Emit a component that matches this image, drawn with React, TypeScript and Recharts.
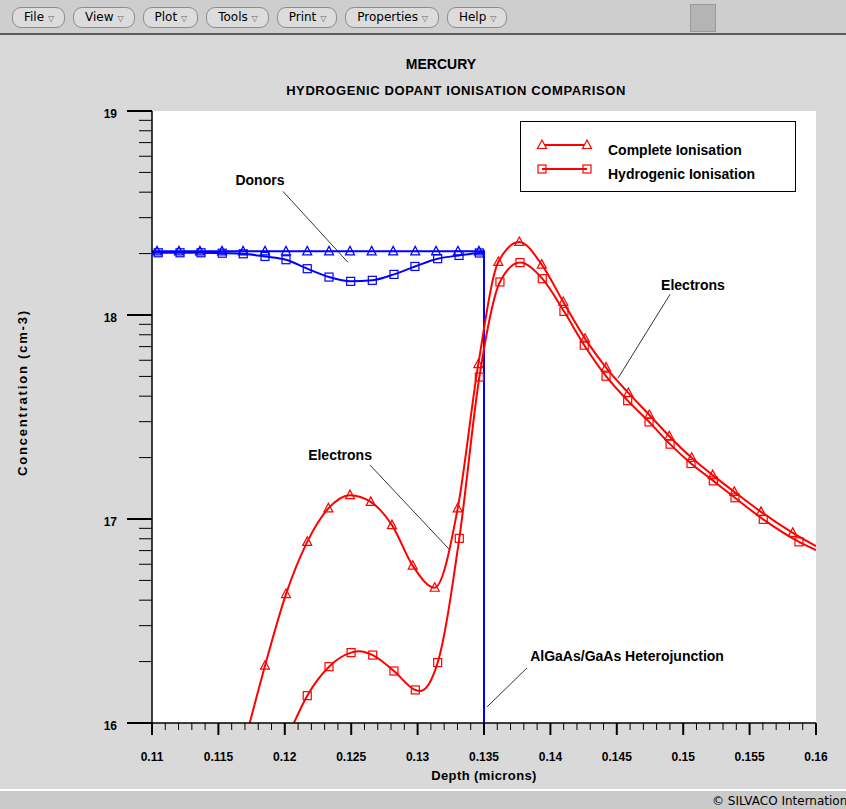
import React from 'react';
import { LineChart, Line, XAxis, YAxis, CartesianGrid, ReferenceLine, ReferenceDot } from 'recharts';

// [depth (microns), log10 concentration, marker flag]
type Pt = [number, number, number];

const completeDonors: Pt[] = [
    [0.1100, 18.312, 0], [0.11038, 18.312, 1], [0.11203, 18.312, 1], [0.11361, 18.312, 1],
    [0.11527, 18.312, 1], [0.11686, 18.312, 1], [0.11851, 18.312, 1], [0.12009, 18.312, 1],
    [0.12169, 18.312, 1], [0.12333, 18.312, 1], [0.12491, 18.312, 1], [0.12654, 18.312, 1],
    [0.12816, 18.312, 1], [0.12982, 18.312, 1], [0.13139, 18.312, 1], [0.13304, 18.312, 1],
    [0.13462, 18.312, 1], [0.1350, 18.312, 0], [0.1350, 15.9, 0],
];

const hydrogenicDonors: Pt[] = [
    [0.1100, 18.305, 0], [0.11047, 18.305, 1], [0.11211, 18.305, 1], [0.11369, 18.305, 1],
    [0.11529, 18.303, 1], [0.11687, 18.300, 1], [0.11851, 18.287, 1], [0.12009, 18.271, 1],
    [0.12169, 18.227, 1], [0.12333, 18.186, 1], [0.12496, 18.165, 1], [0.12659, 18.170, 1],
    [0.12822, 18.199, 1], [0.12980, 18.238, 1], [0.13151, 18.276, 1], [0.13312, 18.292, 1],
    [0.13465, 18.304, 1], [0.1350, 18.305, 0],
];

const completeElectrons: Pt[] = [
    [0.1170, 15.91, 0], [0.11851, 16.281, 1], [0.12009, 16.632, 1], [0.12169, 16.888, 1],
    [0.12328, 17.052, 1], [0.12491, 17.117, 1], [0.12647, 17.084, 1], [0.12807, 16.970, 1],
    [0.12963, 16.771, 1], [0.13129, 16.663, 1], [0.13302, 17.052, 1], [0.13457, 17.759, 1],
    [0.13608, 18.260, 1], [0.13766, 18.358, 1], [0.13935, 18.247, 1], [0.14097, 18.064, 1],
    [0.14261, 17.884, 1], [0.14419, 17.742, 1], [0.14587, 17.618, 1], [0.14745, 17.510, 1],
    [0.14895, 17.406, 1], [0.15064, 17.300, 1], [0.15222, 17.215, 1], [0.15385, 17.133, 1],
    [0.15586, 17.035, 1], [0.15825, 16.932, 1], [0.1600, 16.867, 0],
];

const hydrogenicElectrons: Pt[] = [
    [0.12032, 15.947, 0], [0.12169, 16.134, 1], [0.12333, 16.276, 1], [0.12499, 16.345, 1],
    [0.1256, 16.352, 0], [0.12662, 16.333, 1], [0.12822, 16.255, 1], [0.12983, 16.162, 1],
    [0.1302, 16.157, 0], [0.13151, 16.296, 1], [0.13314, 16.905, 1], [0.13465, 17.696, 1],
    [0.13620, 18.162, 1], [0.13771, 18.257, 1], [0.13939, 18.178, 1], [0.14102, 18.018, 1],
    [0.14255, 17.852, 1], [0.14419, 17.700, 1], [0.14582, 17.580, 1], [0.14743, 17.476, 1],
    [0.14901, 17.367, 1], [0.15059, 17.272, 1], [0.15227, 17.187, 1], [0.15390, 17.104, 1],
    [0.15603, 16.998, 1], [0.15872, 16.888, 1], [0.1600, 16.848, 0],
];

const xMajorTicks = [0.11, 0.115, 0.12, 0.125, 0.13, 0.135, 0.14, 0.145, 0.15, 0.155, 0.16];
const yMajorTicks = [16, 17, 18, 19];
const menuItems = ['File', 'View', 'Plot', 'Tools', 'Print', 'Properties', 'Help'];

// annotation text [label, x, y] and leader segments [x1, y1, x2, y2]
const notes: [string, number, number][] = [
    ['Donors', 0.11813, 18.66],
    ['Electrons', 0.12416, 17.313],
    ['Electrons', 0.15074, 18.145],
    ['AlGaAs/GaAs Heterojunction', 0.14577, 16.329],
];
const leaders: [number, number, number, number][] = [
    [0.11986, 18.606, 0.12476, 18.258],
    [0.12642, 17.264, 0.13236, 16.853],
    [0.14901, 18.101, 0.14509, 17.69],
    [0.13824, 16.27, 0.13523, 16.079],
];

const toRows = (pts: Pt[]) => pts.map(([x, y, m]) => ({ x, y, m }));

// minor ticks every 0.001 on x, log minor ticks on y
const xTicks: number[] = [];
for (let i = 0; i <= 50; i++) xTicks.push(Math.round((0.11 + i * 0.001) * 1000) / 1000);
const yTicks: number[] = [];
for (let n = 16; n < 19; n++) for (let k = 1; k <= 9; k++) yTicks.push(n + Math.log10(k));
yTicks.push(19);

const font = '"Liberation Sans", Arial, sans-serif';

const isXMajor = (v: number) => xMajorTicks.some((t) => Math.abs(t - v) < 1e-7);
const isYMajor = (v: number) => yMajorTicks.some((t) => Math.abs(t - v) < 1e-7);

const XTick = (props: any) => {
    const { x, y, payload } = props;
    const major = isXMajor(payload.value);
    return (
        <g>
            <line x1={x} y1={y} x2={x} y2={y + (major ? 12 : 7)} stroke="#000" strokeWidth={major ? 2 : 1} />
            {major && (
                <text x={x} y={y + 38} textAnchor="middle" fontSize={12} fontWeight="bold" fontFamily={font} fill="#000">
                    {String(payload.value)}
                </text>
            )}
        </g>
    );
};

const YTick = (props: any) => {
    const { x, y, payload } = props;
    const major = isYMajor(payload.value);
    return (
        <g>
            <line x1={x - (major ? 25 : 13)} y1={y} x2={x} y2={y} stroke="#000" strokeWidth={major ? 2 : 1} />
            {major && (
                <text x={x - 35} y={y + 7} textAnchor="end" fontSize={12} fontWeight="bold" fontFamily={font} fill="#000">
                    {String(Math.round(payload.value))}
                </text>
            )}
        </g>
    );
};

const makeDot = (shape: 'tri' | 'sq', color: string) => (props: any) => {
    const { cx, cy, payload, index } = props;
    if (!payload || !payload.m || cx == null || cy == null) return <g key={index} />;
    if (shape === 'tri') {
        return (
            <polygon key={index} points={`${cx},${cy - 5} ${cx - 4.5},${cy + 3.5} ${cx + 4.5},${cy + 3.5}`}
                fill="none" stroke={color} strokeWidth={1.2} />
        );
    }
    return <rect key={index} x={cx - 4} y={cy - 4} width={8} height={8} fill="none" stroke={color} strokeWidth={1.2} />;
};

const series = [
    { name: 'donorsComplete', data: completeDonors, color: '#0000ff', shape: 'tri' as const, type: 'linear' as const },
    { name: 'donorsHydrogenic', data: hydrogenicDonors, color: '#0000ff', shape: 'sq' as const, type: 'monotone' as const },
    { name: 'electronsComplete', data: completeElectrons, color: '#ff0000', shape: 'tri' as const, type: 'monotone' as const },
    { name: 'electronsHydrogenic', data: hydrogenicElectrons, color: '#ff0000', shape: 'sq' as const, type: 'monotone' as const },
];

const legendItems = [
    { label: 'Complete Ionisation', shape: 'tri' },
    { label: 'Hydrogenic Ionisation', shape: 'sq' },
];

const App = () => {
    return (
        <div style={{ position: 'fixed', left: 0, top: 0, width: 846, height: 809, background: '#d9d9d9', overflow: 'hidden', fontFamily: font }}>
            {/* toolbar */}
            <div style={{ position: 'absolute', left: 0, top: 0, width: 846, height: 33, background: '#cecece', borderBottom: '2px solid #5a5a5a' }}>
                <div style={{ position: 'absolute', left: 12, top: 7, display: 'flex', gap: 8 }}>
                    {menuItems.map((m) => (
                        <div key={m} style={{
                            border: '1px solid #8c8c8c', borderRadius: 9, background: '#dcdcdc', padding: '1px 10px 1px 11px',
                            fontFamily: '"DejaVu Sans", sans-serif', fontSize: 12, color: '#000', height: 17, lineHeight: '17px',
                            whiteSpace: 'nowrap',
                        }}>
                            {m} <span style={{ fontSize: 8, color: '#666' }}>▽</span>
                        </div>
                    ))}
                </div>
                <div style={{ position: 'absolute', left: 690, top: 4, width: 24, height: 26, background: '#b4b4b4', border: '1px solid #9a9a9a' }} />
            </div>

            {/* titles */}
            <div style={{ position: 'absolute', left: 0, top: 56, width: 882, textAlign: 'center', fontSize: 14, fontWeight: 'bold' }}>MERCURY</div>
            <div style={{ position: 'absolute', left: 0, top: 83, width: 912, textAlign: 'center', fontSize: 13, fontWeight: 'bold', letterSpacing: 0.6 }}>
                HYDROGENIC DOPANT IONISATION COMPARISON
            </div>

            {/* axis titles */}
            <div style={{ position: 'absolute', left: 384, top: 768, width: 200, textAlign: 'center', fontSize: 13, fontWeight: 'bold', letterSpacing: 0.4 }}>
                Depth (microns)
            </div>
            <div style={{
                position: 'absolute', left: 22, top: 393, width: 240, marginLeft: -120, marginTop: -8, textAlign: 'center',
                fontSize: 13, fontWeight: 'bold', letterSpacing: 1.8, transform: 'rotate(-90deg)', whiteSpace: 'nowrap',
            }}>
                Concentration (cm-3)
            </div>

            <div style={{ position: 'absolute', left: 0, top: 0 }}>
                <LineChart width={846} height={809} margin={{ top: 111, right: 30, bottom: 46, left: 92 }}>
                    <CartesianGrid fill="#ffffff" horizontal={false} vertical={false} />
                    <XAxis dataKey="x" type="number" domain={[0.11, 0.16]} ticks={xTicks} interval={0} allowDataOverflow
                        tickLine={false} tickSize={0} tickMargin={0} height={40} axisLine={{ stroke: '#000', strokeWidth: 1.5 }}
                        tick={(p: any) => <XTick {...p} />} />
                    <XAxis xAxisId="top" orientation="top" dataKey="x" type="number" domain={[0.11, 0.16]} height={0}
                        tick={false} tickLine={false} axisLine={{ stroke: '#000' }} />
                    <YAxis type="number" domain={[16, 19]} ticks={yTicks} interval={0} allowDataOverflow width={60}
                        tickLine={false} tickSize={0} tickMargin={0} axisLine={{ stroke: '#000', strokeWidth: 1.5 }}
                        tick={(p: any) => <YTick {...p} />} />
                    <YAxis yAxisId="right" orientation="right" type="number" domain={[16, 19]} width={0}
                        tick={false} tickLine={false} axisLine={{ stroke: '#666' }} />
                    {leaders.map(([x1, y1, x2, y2], i) => (
                        <ReferenceLine key={'l' + i} segment={[{ x: x1, y: y1 }, { x: x2, y: y2 }]} stroke="#333" strokeWidth={1} />
                    ))}
                    {notes.map(([t, x, y], i) => (
                        <ReferenceDot key={'n' + i} x={x} y={y} r={0} stroke="none" fill="none"
                            label={{ value: t, position: 'center', fill: '#000', fontSize: 14, fontWeight: 'bold', fontFamily: font }} />
                    ))}
                    {series.map((s) => (
                        <Line key={s.name} data={toRows(s.data)} dataKey="y" type={s.type} stroke={s.color} strokeWidth={2}
                            dot={makeDot(s.shape, s.color)} activeDot={false} isAnimationActive={false} />
                    ))}
                </LineChart>
            </div>

            {/* legend */}
            <div style={{ position: 'absolute', left: 520, top: 121, width: 274, height: 69, background: '#fff', border: '1px solid #000' }}>
                {legendItems.map((it, i) => (
                    <div key={it.label} style={{ position: 'absolute', left: 0, top: 13 + i * 24, height: 20, width: 274 }}>
                        <svg width={70} height={20} style={{ position: 'absolute', left: 14, top: 0 }}>
                            <line x1={7} y1={10} x2={52} y2={10} stroke="#ff0000" strokeWidth={2} />
                            {it.shape === 'tri' ? (
                                <>
                                    <polygon points="7,5 2.5,13.5 11.5,13.5" fill="#fff" stroke="#ff0000" strokeWidth={1.2} />
                                    <polygon points="52,5 47.5,13.5 56.5,13.5" fill="#fff" stroke="#ff0000" strokeWidth={1.2} />
                                </>
                            ) : (
                                <>
                                    <rect x={3} y={6} width={8} height={8} fill="none" stroke="#ff0000" strokeWidth={1.2} />
                                    <rect x={48} y={6} width={8} height={8} fill="none" stroke="#ff0000" strokeWidth={1.2} />
                                </>
                            )}
                        </svg>
                        <div style={{ position: 'absolute', left: 87, top: 7, fontSize: 14, fontWeight: 'bold', whiteSpace: 'nowrap' }}>{it.label}</div>
                    </div>
                ))}
            </div>

            {/* status bar */}
            <div style={{ position: 'absolute', left: 0, top: 789, width: 846, height: 20, background: '#cacaca', borderTop: '2px solid #ffffff' }}>
                <div style={{ position: 'absolute', left: 712, top: 3, fontFamily: '"DejaVu Sans", sans-serif', fontSize: 12, whiteSpace: 'nowrap', color: '#000' }}>
                    © SILVACO International
                </div>
            </div>
        </div>
    );
};

export default App;
